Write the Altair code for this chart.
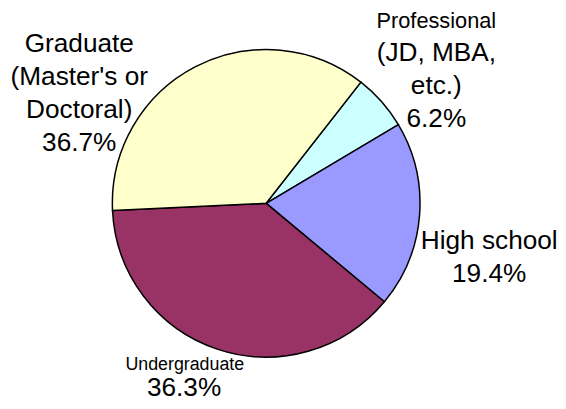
import math
import altair as alt
import pandas as pd

# ---- data ----
categories = ["Professional", "High school", "Undergraduate", "Graduate"]
shares = [5.9, 19.6, 38.2, 36.3]          # slice sizes as drawn
pct_labels = ["6.2%", "19.4%", "36.3%", "36.7%"]
name_lines = [
    ["Professional", "(JD, MBA,", "etc.)"],
    ["High school"],
    ["Undergraduate"],
    ["Graduate", "(Master's or", "Doctoral)"],
]
colors = ["#CCFFFF", "#9999FF", "#993366", "#FFFFCC"]

df = pd.DataFrame({"category": categories, "value": shares, "order": list(range(len(categories)))})

START = math.radians(38)
total = sum(shares)
theta_scale = alt.Scale(domain=[0, total], range=[START, START + 2 * math.pi])
FONT = "Liberation Sans"

base = alt.Chart(df)
pie = base.mark_arc(outerRadius=155.5, stroke="black", strokeWidth=1.5).encode(
    theta=alt.Theta("value:Q", stack=True, scale=theta_scale),
    color=alt.Color("category:N", scale=alt.Scale(domain=categories, range=colors), legend=None),
    order=alt.Order("order:Q"),
)

mid = base.transform_window(
    cum="sum(value)", sort=[alt.SortField("order")], frame=[None, 0]
).transform_calculate(mid="datum.cum - datum.value / 2")


def label(cat, text, size, dx, dy):
    return mid.transform_filter(alt.datum.category == cat).mark_text(
        radius=175, align="center", baseline="alphabetic", font=FONT,
        fontSize=size, lineBreak="\n", lineHeight=33.3, dx=dx, dy=dy, color="black",
    ).encode(
        theta=alt.Theta("mid:Q", stack=False, scale=theta_scale),
        text=alt.value(text),
    )


BIG = 26.5
layers = [pie]
# Graduate
layers.append(label(categories[3], "\n".join(name_lines[3] + [pct_labels[3]]), BIG, -108.6, 2.9))
# Professional
layers.append(label(categories[0], name_lines[0][0], 22, 40.7, -61.6))
layers.append(label(categories[0], "\n".join(name_lines[0][1:] + [pct_labels[0]]), BIG, 40.7, -28.3))
# High school
layers.append(label(categories[1], "\n".join(name_lines[1] + [pct_labels[1]]), BIG, 51, 32.2))
# Undergraduate
layers.append(label(categories[2], name_lines[2][0], 18, -26.6, 2.5))
layers.append(label(categories[2], pct_labels[2], BIG, -27.3, 29.1))

chart = alt.layer(*layers).properties(
    width=400, height=350,
    autosize=alt.AutoSizeParams(type="none"),
    padding={"left": 61, "top": 20.3, "right": 95, "bottom": 24},
).configure_view(stroke=None)

chart.save("out.html", embed_options={"renderer": "svg", "actions": False})
